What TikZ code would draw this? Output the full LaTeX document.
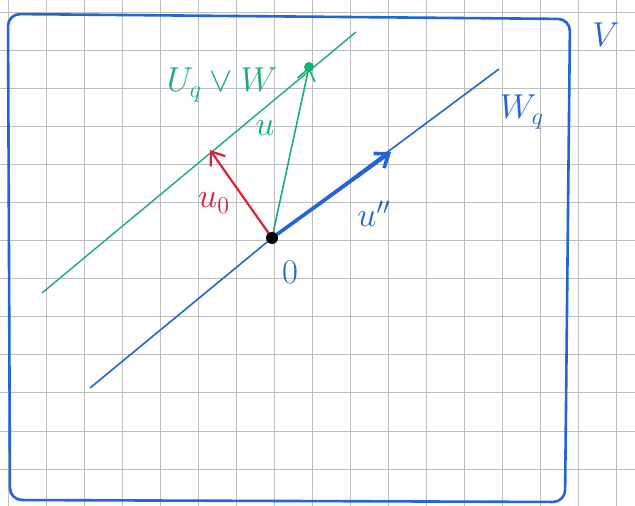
\documentclass[tikz,border=0pt]{standalone}
\usepackage{amsmath}
\usepackage{tikz}
\usetikzlibrary{arrows.meta,positioning}
\definecolor{penblue}{RGB}{35,100,215}
\definecolor{pengreen}{RGB}{25,175,110}
\definecolor{penred}{RGB}{225,30,60}
\definecolor{paper}{RGB}{190,190,190}
\begin{document}
\begin{tikzpicture}[
  x=0.5pt,y=-0.5pt,
  gridline/.style={draw=paper,line width=0.5pt},
  frame/.style={draw=penblue,line width=1.3pt,rounded corners=6pt},
  subsp/.style={draw=penblue,line width=0.8pt},
  vec/.style={-{Straight Barb[length=6pt,width=9pt]},line width=1.1pt},
  lbl/.style={font=\LARGE,inner sep=1pt}
]
  \useasboundingbox (0,0) rectangle (635,506);
  \fill[white] (0,0) rectangle (635,506);

% ---------------- squared paper ----------------
  \foreach \x in {8.5,46.5,...,635} \draw[gridline] (\x,0) -- (\x,506);
  \foreach \y in {13,51,...,506} \draw[gridline] (0,\y) -- (635,\y);

% ---------------- the space V ----------------
  \draw[frame] (8,14) -- (570,19) -- (565,502) -- (10,500) -- cycle;
  \node[lbl,text=penblue] (V) at (606,35) {$V$};

% ---------------- points ----------------
  \coordinate (O)    at (272,238);
  \coordinate (wqA)  at (90,388);
  \coordinate (wqB)  at (499,69);
  \coordinate (gA)   at (42,293);
  \coordinate (gB)   at (356,32);
  \coordinate (uT)   at (309,67);
  \coordinate (u0T)  at (210,150);
  \coordinate (uppT) at (391,152);

% ---------------- subspaces ----------------
  \draw[subsp] (wqA) -- (O) -- (wqB);
  \draw[draw=pengreen,line width=0.7pt] (gA) -- (gB);

% ---------------- vectors ----------------
  \draw[vec,draw=penblue,line width=1.8pt] (O) -- (uppT);
  \draw[vec,draw=penred] (O) -- (u0T);
  \draw[vec,draw=pengreen,line width=0.8pt] (O) -- (uT);
  \fill[pengreen] (uT) circle (2.5pt);
  \fill[black] (O) circle (3pt);

% ---------------- labels ----------------
  \node[lbl,text=penblue]  (Wq)  at (522,112) {$W_q$};
  \node[lbl,text=pengreen] (UqW) at (222,85)  {$U_q\vee W$};
  \node[lbl,text=pengreen] (u)   at (265,128) {$u$};
  \node[lbl,text=penred]   (u0)  at (214,203) {$u_0$};
  \node[lbl,text=penblue]  (upp) at (374,214) {$u''$};
  \node[lbl,text=penblue]  (zero) at (290,272) {$0$};
\end{tikzpicture}
\end{document}
